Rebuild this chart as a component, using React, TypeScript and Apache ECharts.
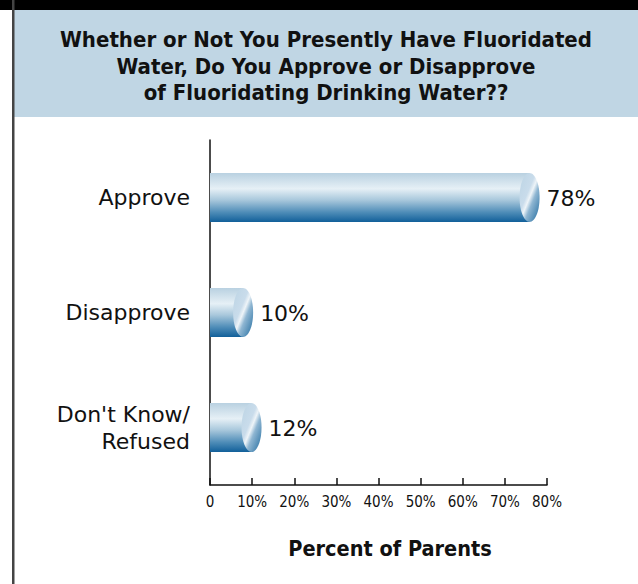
import React, { useEffect, useRef } from "react";
import * as echarts from "echarts";

const categories = ["Approve", "Disapprove", "Don't Know/\nRefused"];
const values = [78, 10, 12];
const valueLabels = ["78%", "10%", "12%"];
const xTicks = [0, 10, 20, 30, 40, 50, 60, 70, 80];
const titleLines = [
  "Whether or Not You Presently Have Fluoridated",
  "Water, Do You Approve or Disapprove",
  "of Fluoridating Drinking Water??",
];
const axisTitle = "Percent of Parents";

const NARROW = "'DejaVu Sans Condensed', 'Liberation Sans', sans-serif";
const SANS = "'DejaVu Sans', 'Liberation Sans', sans-serif";

export default function App() {
  const ref = useRef<HTMLDivElement>(null);
  useEffect(() => {
    document.body.style.margin = "0";
    const chart = echarts.init(ref.current!, null, { renderer: "svg" });
    const bodyGrad = new echarts.graphic.LinearGradient(0, 0, 0, 1, [
      { offset: 0, color: "#b9d1e1" },
      { offset: 0.32, color: "#e6f0f6" },
      { offset: 0.55, color: "#a9c8dc" },
      { offset: 0.8, color: "#4f8db8" },
      { offset: 1, color: "#12609a" },
    ]);
    const faceGrad = new echarts.graphic.LinearGradient(0, 0, 1, 1, [
      { offset: 0, color: "#bcd4e4" },
      { offset: 0.4, color: "#c9dceb" },
      { offset: 0.5, color: "#eef4f8" },
      { offset: 0.62, color: "#8fb6d2" },
      { offset: 1, color: "#1f6a9e" },
    ]);
    chart.setOption({
      animation: false,
      grid: { left: 210, right: 91, top: 140, bottom: 99, containLabel: false },
      xAxis: {
        type: "value",
        min: xTicks[0],
        max: xTicks[xTicks.length - 1],
        interval: 10,
        splitLine: { show: false },
        axisLine: { show: true, lineStyle: { color: "#111", width: 1.5 } },
        axisTick: { show: true, inside: true, length: 7, lineStyle: { color: "#111", width: 1.5 } },
        axisLabel: {
          margin: 9,
          fontFamily: NARROW,
          fontSize: 15,
          color: "#111",
          formatter: (v: number) => (v === 0 ? "0" : v + "%"),
        },
      },
      yAxis: {
        type: "category",
        data: categories,
        inverse: true,
        axisLine: { show: true, lineStyle: { color: "#111", width: 1.5 } },
        axisTick: { show: false },
        axisLabel: {
          margin: 20,
          fontFamily: SANS,
          fontSize: 22,
          lineHeight: 27,
          color: "#111",
          align: "right",
        },
      },
      series: [
        {
          type: "custom",
          data: values.map((v, i) => [v, i]),
          renderItem: (params: any, api: any) => {
            const v = api.value(0);
            const idx = api.value(1);
            const end = api.coord([v, idx]);
            const start = api.coord([0, idx]);
            const band = api.size([0, 1])[1];
            const h = band * 0.425;
            const rx = 10;
            const cx = end[0] - rx + 1;
            const y0 = end[1] - h / 2;
            return {
              type: "group",
              children: [
                {
                  type: "rect",
                  shape: { x: start[0], y: y0, width: cx - start[0], height: h },
                  style: { fill: bodyGrad },
                },
                {
                  type: "ellipse",
                  shape: { cx: cx, cy: end[1], rx: rx, ry: h / 2 },
                  style: { fill: faceGrad },
                },
                {
                  type: "text",
                  x: end[0] + 8,
                  y: end[1] + 1,
                  style: {
                    text: valueLabels[params.dataIndex],
                    fontFamily: SANS,
                    fontSize: 22,
                    fill: "#111",
                    align: "left",
                    verticalAlign: "middle",
                  },
                },
              ],
            };
          },
        },
      ],
      graphic: [
        { type: "rect", shape: { x: 0, y: 0, width: 638, height: 10 }, style: { fill: "#000" } },
        { type: "rect", shape: { x: 14, y: 10, width: 624, height: 107 }, style: { fill: "#c0d6e4" } },
        { type: "rect", shape: { x: 12, y: 0, width: 2.5, height: 584 }, style: { fill: "#444" } },
        {
          type: "text",
          x: 326,
          y: 66,
          style: {
            text: titleLines.join("\n"),
            fontFamily: NARROW,
            fontWeight: "bold",
            fontSize: 22,
            lineHeight: 26.5,
            fill: "#111",
            align: "center",
            verticalAlign: "middle",
          },
        },
        {
          type: "text",
          x: 390,
          y: 548,
          style: {
            text: axisTitle,
            fontFamily: NARROW,
            fontWeight: "bold",
            fontSize: 21.5,
            fill: "#111",
            align: "center",
            verticalAlign: "middle",
          },
        },
      ],
    });
    return () => chart.dispose();
  }, []);
  return <div ref={ref} style={{ width: 638, height: 584, position: "absolute", left: 0, top: 0 }} />;
}
